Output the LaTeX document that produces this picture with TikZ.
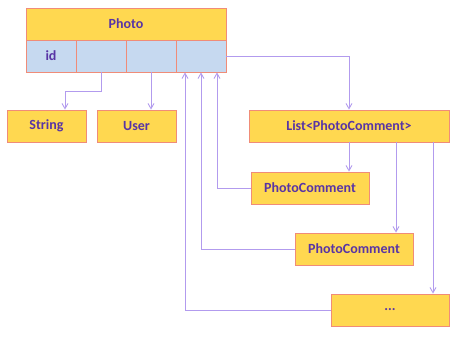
\documentclass[tikz,border=0pt]{standalone}
\usepackage{fontspec}
\setmainfont{Carlito}
\usetikzlibrary{arrows.meta}
\definecolor{boxgold}{RGB}{255,216,80}
\definecolor{boxedge}{RGB}{240,140,120}
\definecolor{cellblue}{RGB}{198,217,240}
\definecolor{textpurple}{RGB}{88,52,165}
\definecolor{linklav}{RGB}{178,155,238}

\tikzset{
  typebox/.style={draw=boxedge,fill=boxgold,line width=0.9pt,inner sep=0pt,
    font=\fontsize{14}{16}\selectfont\bfseries,text=textpurple},
  fieldcell/.style={typebox,fill=cellblue,minimum width=50,minimum height=32},
  link/.style={draw=linklav,line width=0.9pt,-{Straight Barb[angle=60:6pt]}}
}

\begin{document}
\begin{tikzpicture}[x=1pt,y=-1pt]
  \useasboundingbox (0,0) rectangle (461,339);

  % Photo class header and its field row
  \node[typebox,minimum width=200,minimum height=32] (photo) at (126,24) {Photo};
  \node[fieldcell] (idcell) at (51,56) {id};
  \node[fieldcell] (cellb) at (101,56) {};
  \node[fieldcell] (cellc) at (151,56) {};
  \node[fieldcell] (celld) at (201,56) {};

  % Field types
  \node[typebox,minimum width=79,minimum height=32] (string) at (46.5,126) {String};
  \node[typebox,minimum width=79,minimum height=32] (user) at (136.5,126) {User};
  \node[typebox,minimum width=200,minimum height=32] (list) at (349,126) {List<PhotoComment>};

  % List elements
  \node[typebox,minimum width=118,minimum height=32] (pcone) at (310,188) {PhotoComment};
  \node[typebox,minimum width=118,minimum height=32] (pctwo) at (354,249) {PhotoComment};
  \node[typebox,minimum width=118,minimum height=32] (more) at (390,310) {...};

  % Field links
  \draw[link] (cellb.south) -- ++(0,19) -| ([xshift=18.5]string.north);
  \draw[link] (cellc.south) -- (cellc.south |- user.north);
  \draw[link] (celld.east) -| (list.north);

  % List to elements
  \draw[link] (list.south) -- (pcone.north -| list.south);
  \draw[link] ([xshift=47]list.south) -- ([xshift=42]pctwo.north);
  \draw[link] ([xshift=84]list.south) -- ([xshift=43]more.north);

  % Back references to Photo
  \draw[link] (pcone.west) -| ([xshift=16]celld.south);
  \draw[link] (pctwo.west) -| (celld.south);
  \draw[link] (more.west) -| ([xshift=-16]celld.south);
\end{tikzpicture}
\end{document}
